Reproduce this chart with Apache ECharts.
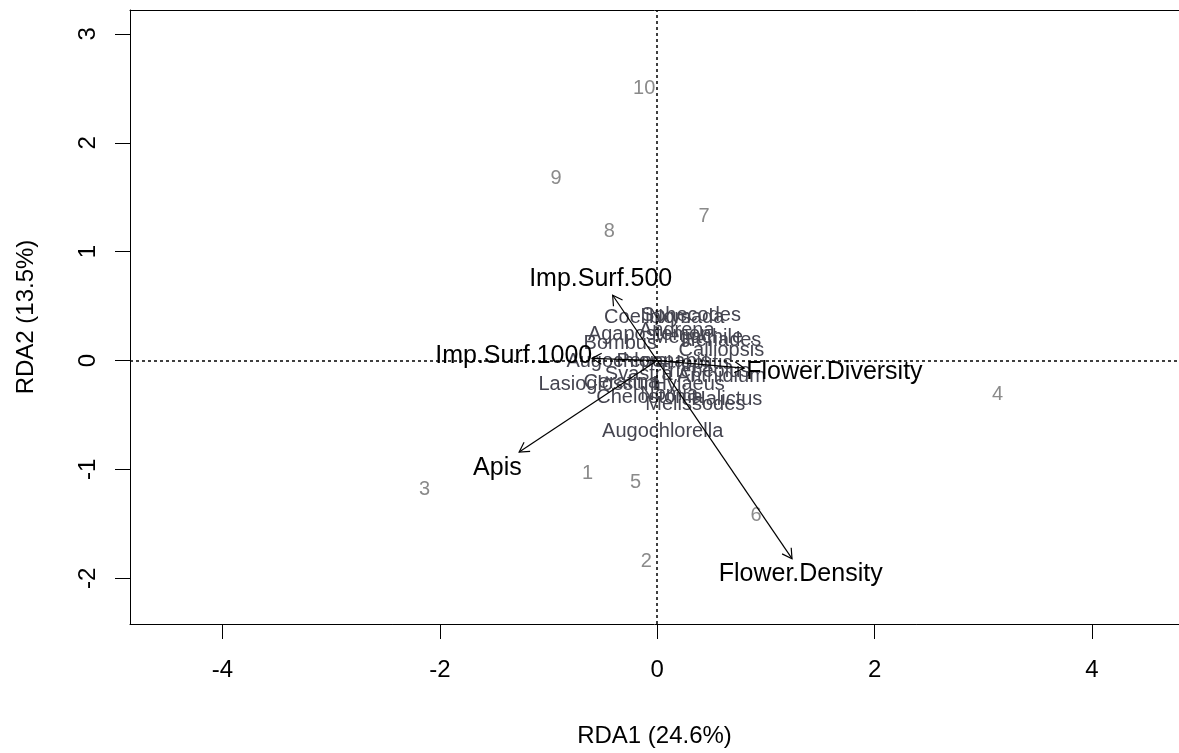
<!DOCTYPE html>
<html>
<head>
<meta charset="utf-8">
<script src="https://cdn.jsdelivr.net/npm/echarts@6/dist/echarts.min.js"></script>
<style>
  html, body { margin: 0; padding: 0; background: #fff; }
  #main { width: 1179px; height: 753px; }
</style>
</head>
<body>
<div id="main"></div>
<script>
// site scores (numbers)
const siteNames = ['1', '2', '3', '4', '5', '6', '7', '8', '9', '10'];
const siteX = [-0.64, -0.10, -2.14, 3.13, -0.20, 0.91, 0.43, -0.44, -0.93, -0.12];
const siteY = [-1.04, -1.85, -1.18, -0.31, -1.12, -1.42, 1.32, 1.19, 1.67, 2.50];

// species scores (genera)
const speciesNames = ['Coelioxys', 'Sphecodes', 'Nomada', 'Andrena', 'Agapostemon', 'Megachile',
  'Heriades', 'Bombus', 'Calliopsis', 'Augochlora', 'Peponapis', 'Hoplitis', 'Triepeolus',
  'Anthidium', 'Lasioglossum', 'Ceratina', 'Hylaeus', 'Halictus', 'Chelostoma', 'Melissodes',
  'Nomia', 'Svastra', 'Augochlorella'];
const speciesX = [-0.09, 0.31, 0.27, 0.18, -0.07, 0.37, 0.59, -0.34, 0.59, -0.37, 0.06, 0.39, 0.43,
  0.59, -0.53, -0.33, 0.29, 0.64, -0.07, 0.35, 0.11, -0.17, 0.05];
const speciesY = [0.40, 0.41, 0.40, 0.28, 0.24, 0.21, 0.18, 0.16, 0.09, -0.01, -0.01, -0.03, -0.10,
  -0.15, -0.22, -0.20, -0.22, -0.36, -0.34, -0.40, -0.31, -0.13, -0.65];

// biplot arrows (environmental variables)
const envNames = ['Imp.Surf.500', 'Imp.Surf.1000', 'Flower.Diversity', 'Apis', 'Flower.Density'];
const envX = [-0.41, -0.60, 0.80, -1.27, 1.24];
const envY = [0.60, 0.02, -0.07, -0.84, -1.82];
const envLabelX = [-0.52, -1.32, 1.63, -1.47, 1.32];
const envLabelY = [0.75, 0.04, -0.11, -0.99, -1.96];

const xTicks = [-4, -2, 0, 2, 4];
const yTicks = [-2, -1, 0, 1, 2, 3];

const font = '"Liberation Sans", Arial, sans-serif';

function textSeries(names, xs, ys, size, color) {
    return {
        type: 'custom',
        coordinateSystem: 'cartesian2d',
        data: names.map(function (n, i) { return [xs[i], ys[i], n]; }),
        silent: true,
        renderItem: function (params, api) {
            const p = api.coord([api.value(0), api.value(1)]);
            return {
                type: 'text',
                x: p[0], y: p[1],
                style: {
                    text: names[params.dataIndex],
                    fill: color,
                    font: size + 'px ' + font,
                    textAlign: 'center',
                    textVerticalAlign: 'middle'
                }
            };
        }
    };
}

const option = {
    animation: false,
    backgroundColor: '#fff',
    grid: { left: 130, right: 0, top: 10, bottom: 128 },
    xAxis: [{
        type: 'value', min: -4.85, max: 4.80,
        name: 'RDA1 (24.6%)', nameLocation: 'middle', nameGap: 100,
        nameTextStyle: { fontSize: 24, color: '#000', fontFamily: font },
        axisLine: { onZero: false, lineStyle: { color: '#000' } },
        axisTick: { customValues: xTicks, length: 15, lineStyle: { color: '#000' } },
        axisLabel: { customValues: xTicks, margin: 34, fontSize: 24, color: '#000', fontFamily: font },
        splitLine: { show: false }
    }, {
        // top border of the box
        type: 'value', position: 'top', min: -4.85, max: 4.80,
        axisLine: { onZero: false, lineStyle: { color: '#000' } },
        axisTick: { show: false }, axisLabel: { show: false }, splitLine: { show: false }
    }],
    yAxis: {
        type: 'value', min: -2.42, max: 3.22,
        name: 'RDA2 (13.5%)', nameLocation: 'middle', nameGap: 92, nameRotate: 90,
        nameTextStyle: { fontSize: 24, color: '#000', fontFamily: font },
        axisLine: { onZero: false, lineStyle: { color: '#000' } },
        axisTick: { customValues: yTicks, length: 15, lineStyle: { color: '#000' } },
        axisLabel: { customValues: yTicks, rotate: 90, margin: 30, fontSize: 24, color: '#000', fontFamily: font },
        splitLine: { show: false }
    },
    series: [
        {
            type: 'line',
            data: [],
            markLine: {
                silent: true,
                symbol: 'none',
                label: { show: false },
                lineStyle: { color: '#000', type: [3, 3], width: 1.5 },
                data: [{ xAxis: 0 }, { yAxis: 0 }]
            }
        },
        textSeries(siteNames, siteX, siteY, 20, '#8a8a8a'),
        textSeries(speciesNames, speciesX, speciesY, 20, '#454550'),
        {
            type: 'custom',
            coordinateSystem: 'cartesian2d',
            silent: true,
            data: envNames.map(function (n, i) { return [envX[i], envY[i]]; }),
            renderItem: function (params, api) {
                const o = api.coord([0, 0]);
                const t = api.coord([api.value(0), api.value(1)]);
                const ang = Math.atan2(t[1] - o[1], t[0] - o[0]);
                const L = 11, a = Math.PI / 6;
                const h1 = [t[0] - L * Math.cos(ang - a), t[1] - L * Math.sin(ang - a)];
                const h2 = [t[0] - L * Math.cos(ang + a), t[1] - L * Math.sin(ang + a)];
                const st = { stroke: '#000', lineWidth: 1.2, fill: null };
                return {
                    type: 'group',
                    children: [
                        { type: 'line', shape: { x1: o[0], y1: o[1], x2: t[0], y2: t[1] }, style: st },
                        { type: 'polyline', shape: { points: [h1, t, h2] }, style: st }
                    ]
                };
            }
        },
        textSeries(envNames, envLabelX, envLabelY, 25, '#000')
    ]
};

const myChart = echarts.init(document.getElementById('main'));
myChart.setOption(option);
</script>
</body>
</html>
